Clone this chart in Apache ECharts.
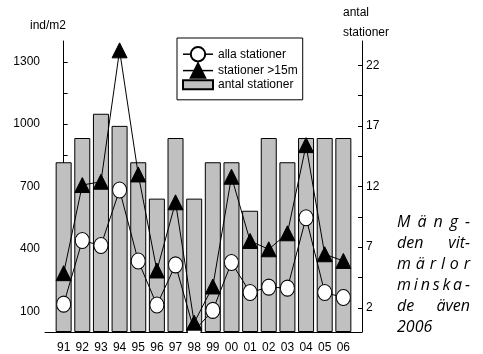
<!DOCTYPE html>
<html>
<head>
<meta charset="utf-8">
<script src="https://cdn.jsdelivr.net/npm/echarts@6/dist/echarts.min.js"></script>
<style>
  html, body { margin: 0; padding: 0; background: #fff; }
  #chart { width: 483px; height: 354px; }
</style>
</head>
<body>
<div id="chart"></div>
<script>
// Years (two-digit) along the x axis
const years = ['91','92','93','94','95','96','97','98','99','00','01','02','03','04','05','06'];
// Mean density, ind/m2, all stations
const allaStationer = [134, 440, 416, 683, 342, 130, 323, 5, 104, 334, 190, 216, 211, 550, 190, 166];
// Mean density, ind/m2, stations deeper than 15 m
const stationerOver15m = [283, 707, 723, 1355, 758, 296, 624, 45, 219, 747, 438, 398, 475, 899, 374, 342];
// Number of stations sampled each year
const antalStationer = [14, 16, 18, 17, 14, 11, 16, 11, 14, 14, 10, 16, 14, 16, 16, 16];
// Labelled ticks
const leftTicks = [100, 400, 700, 1000, 1300];
const rightTicks = [2, 7, 12, 17, 22];
// Side note, one entry per printed line
const noteLines = ['Mäng-', 'den vit-', 'märlor', 'minska-', 'de även', '2006'];

const FONT = '"Liberation Sans", Arial, sans-serif';
const NOTE_FONT = '"Open Sans", "Noto Sans", sans-serif';

// major ticks plus a minor tick halfway between each pair
function withHalfTicks(arr) {
  const out = [];
  arr.forEach((v, i) => {
    out.push(v);
    if (i < arr.length - 1) out.push((v + arr[i + 1]) / 2);
  });
  return out;
}

// Justified note text: every line but the last is spread to the full column width
function buildNote(x0, x1, yFirst, step, size) {
  const ctx = document.createElement('canvas').getContext('2d');
  ctx.font = 'italic ' + size + 'px ' + NOTE_FONT;
  const els = [];
  noteLines.forEach((line, li) => {
    const y = yFirst + li * step;
    const isLast = li === noteLines.length - 1;
    let pieces;
    if (isLast) pieces = [line];
    else if (line.indexOf(' ') >= 0) pieces = line.split(' ');
    else pieces = Array.from(line);
    const widths = pieces.map(p => ctx.measureText(p).width);
    const total = widths.reduce((a, b) => a + b, 0);
    const gap = pieces.length > 1 ? (x1 - x0 - total) / (pieces.length - 1) : 0;
    let x = x0;
    pieces.forEach((p, i) => {
      els.push({
        type: 'text', x: x, y: y, z: 10,
        style: {
          text: p, fill: '#000', fontSize: size, fontStyle: 'italic',
          fontFamily: NOTE_FONT, align: 'left', verticalAlign: 'middle'
        }
      });
      x += widths[i] + gap;
    });
  });
  return els;
}

const chart = echarts.init(document.getElementById('chart'));

const option = {
  animation: false,
  backgroundColor: '#fff',
  grid: { left: 45, right: 121, top: 41, bottom: 22 },
  xAxis: {
    type: 'value',
    min: -1,
    max: years.length,
    interval: 1,
    axisLine: { lineStyle: { color: '#000', width: 1 } },
    axisTick: { show: false },
    splitLine: { show: false },
    axisLabel: {
      color: '#000', fontFamily: FONT, fontSize: 12, margin: 10,
      formatter: v => years[v] || ''
    }
  },
  yAxis: [
    {
      type: 'value', position: 'left', min: 0, max: 1400,
      axisLine: { show: true, lineStyle: { color: '#000', width: 1 } },
      axisTick: { show: true, inside: true, length: 4, customValues: withHalfTicks(leftTicks), lineStyle: { color: '#000' } },
      axisLabel: {
        customValues: leftTicks, color: '#000', fontFamily: FONT, fontSize: 12, margin: 5,
        formatter: v => String(v)
      },
      splitLine: { show: false }
    },
    {
      type: 'value', position: 'right', min: 0, max: 24,
      axisLine: { show: true, lineStyle: { color: '#000', width: 1 } },
      axisTick: { show: true, inside: true, length: 4, customValues: withHalfTicks(rightTicks), lineStyle: { color: '#000' } },
      axisLabel: {
        customValues: rightTicks, color: '#000', fontFamily: FONT, fontSize: 12, margin: 4,
        formatter: v => String(v)
      },
      splitLine: { show: false }
    }
  ],
  legend: {
    orient: 'vertical',
    left: 177, top: 38,
    padding: [8, 5, 9, 5],
    itemWidth: 30, itemHeight: 18, itemGap: 0,
    backgroundColor: '#fff',
    borderColor: '#000', borderWidth: 1, borderRadius: 0,
    textStyle: { color: '#000', fontFamily: FONT, fontSize: 12 },
    lineStyle: { width: 1.5 },
    data: [
      { name: 'alla stationer' },
      { name: 'stationer >15m' },
      { name: 'antal stationer', icon: 'path://M0,0H30V9H0Z' }
    ]
  },
  graphic: [
    // axis titles
    {
      type: 'text', left: 30, top: 20,
      style: { text: 'ind/m2', fill: '#000', fontFamily: FONT, fontSize: 12 }
    },
    {
      type: 'text', left: 343, top: 3,
      style: { text: 'antal\nstationer', fill: '#000', fontFamily: FONT, fontSize: 12, lineHeight: 19.5 }
    },
    // keeps markers sitting on the baseline from spilling below the x axis
    {
      type: 'rect', z: 50,
      shape: { x: 46, y: 333, width: 315, height: 7 },
      style: { fill: '#fff' }
    }
  ].concat(buildNote(397, 470, 222, 21, 16)),
  series: [
    {
      type: 'bar', name: 'antal stationer', yAxisIndex: 1, z: 1,
      barWidth: 16,
      itemStyle: { color: '#c0c0c0', borderColor: '#000', borderWidth: 1 },
      data: antalStationer.map((v, i) => [i, v])
    },
    {
      type: 'line', name: 'alla stationer', yAxisIndex: 0, z: 2,
      symbol: 'circle', symbolSize: [14, 16],
      lineStyle: { color: '#000', width: 1 },
      itemStyle: { color: '#fff', borderColor: '#000', borderWidth: 1 },
      data: allaStationer.map((v, i) => [i, v])
    },
    {
      type: 'line', name: 'stationer >15m', yAxisIndex: 0, z: 3,
      symbol: 'triangle', symbolSize: [15, 15],
      lineStyle: { color: '#000', width: 1 },
      itemStyle: { color: '#000', borderColor: '#000', borderWidth: 1 },
      data: stationerOver15m.map((v, i) => [i, v])
    }
  ]
};

chart.setOption(option);
</script>
</body>
</html>
